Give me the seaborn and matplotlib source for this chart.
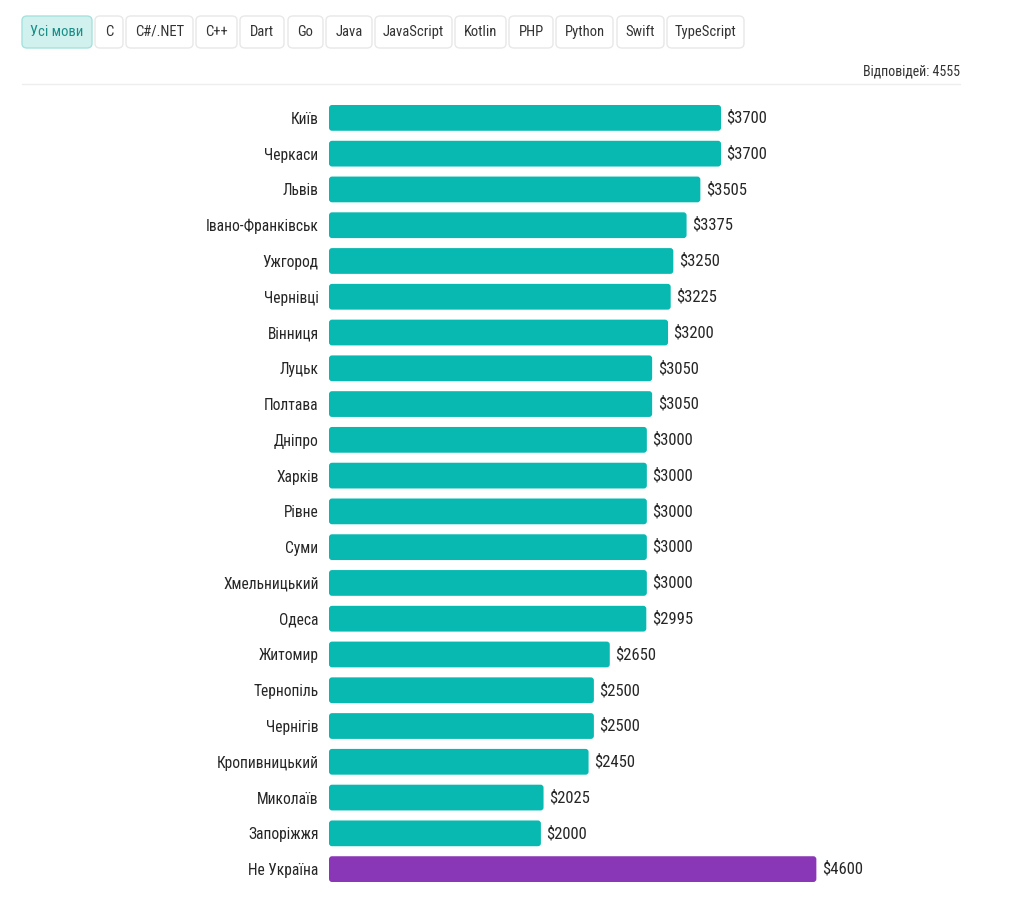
import pandas as pd
import matplotlib
matplotlib.use("Agg")
import matplotlib.pyplot as plt
from matplotlib.patches import FancyBboxPatch
import seaborn as sns

# --- data ---
cities = ["Київ", "Черкаси", "Львів", "Івано-Франківськ", "Ужгород", "Чернівці",
          "Вінниця", "Луцьк", "Полтава", "Дніпро", "Харків", "Рівне", "Суми",
          "Хмельницький", "Одеса", "Житомир", "Тернопіль", "Чернігів",
          "Кропивницький", "Миколаїв", "Запоріжжя", "Не Україна"]
salaries = [3700, 3700, 3505, 3375, 3250, 3225, 3200, 3050, 3050, 3000, 3000, 3000,
            3000, 3000, 2995, 2650, 2500, 2500, 2450, 2025, 2000, 4600]
groups = ["Україна"] * 21 + ["Не Україна"]
tabs = ["Усі мови", "C", "C#/.NET", "C++", "Dart", "Go", "Java", "JavaScript",
        "Kotlin", "PHP", "Python", "Swift", "TypeScript"]
answers_label = "Відповідей: 4555"

TEAL = "#07b9b0"
PURPLE = "#8a37b7"

sns.set_theme(style="white")
plt.rcParams['font.family'] = ['Roboto Condensed', 'Roboto', 'DejaVu Sans']

df = pd.DataFrame({"city": cities, "salary": salaries, "group": groups})

W, H = 1024, 897
fig = plt.figure(figsize=(W / 100, H / 100), dpi=100)

# axes placed in pixel terms
ax_left, ax_right = 329, 960
ax_top, ax_bottom = 100, 887
ax = fig.add_axes([ax_left / W, 1 - ax_bottom / H, (ax_right - ax_left) / W, (ax_bottom - ax_top) / H])

sns.barplot(data=df, x="salary", y="city", hue="group",
            palette={"Україна": TEAL, "Не Україна": PURPLE},
            dodge=False, legend=False, width=0.72, ax=ax, saturation=1)

px_per_usd = 0.10595
ax.set_xlim(0, (ax_right - ax_left) / px_per_usd)
ax.set_xlabel("")
ax.set_ylabel("")
ax.set_xticks([])
ax.tick_params(axis="y", length=0, pad=7.5, labelsize=11.2, labelcolor="#262626")
sns.despine(ax=ax, left=True, bottom=True)

for cont in ax.containers:
    ax.bar_label(cont, labels=[f"${v:.0f}" for v in cont.datavalues],
                 padding=4, fontsize=12, color="#262626")

# round the bar corners a little
x_per_px = 1 / px_per_usd
y_per_px = 22 / (ax_bottom - ax_top)
for p in list(ax.patches):
    if p.get_width() <= 0:
        continue
    rb = FancyBboxPatch((p.get_x(), p.get_y()), p.get_width(), p.get_height(),
                        boxstyle=f"round,pad=0,rounding_size={3 * x_per_px}",
                        mutation_aspect=y_per_px / x_per_px,
                        facecolor=p.get_facecolor(), edgecolor="none")
    p.set_visible(False)
    ax.add_patch(rb)

# --- tab buttons across the top ---
tab_x = [(22, 92), (95, 123), (126, 193), (196, 237), (240, 284), (288, 323),
         (326, 372), (375, 452), (455, 506), (509, 553), (556, 613), (617, 664),
         (667, 744)]
y0, y1 = 16, 48
for i, (name, (x0, x1)) in enumerate(zip(tabs, tab_x)):
    sel = i == 0
    box = FancyBboxPatch((x0 / W, 1 - y1 / H), (x1 - x0) / W, (y1 - y0) / H,
                         boxstyle="round,pad=0,rounding_size=0.005",
                         transform=fig.transFigure,
                         facecolor="#d0f1ee" if sel else "white",
                         edgecolor="#a6e2dd" if sel else "#e8e8e8", linewidth=1)
    fig.add_artist(box)
    fig.text((x0 + x1) / 2 / W, 1 - (y0 + y1) / 2 / H, name,
             ha="center", va="center", fontsize=10.5,
             color="#1b8f87" if sel else "#333333")

fig.text(960 / W, 1 - 71 / H, answers_label, ha="right", va="center",
         fontsize=10, color="#333333")
fig.add_artist(plt.Line2D([22 / W, 960 / W], [1 - 84 / H, 1 - 84 / H],
                          transform=fig.transFigure, color="#eeeeee", linewidth=1))

fig.savefig("out.png", dpi=100)
